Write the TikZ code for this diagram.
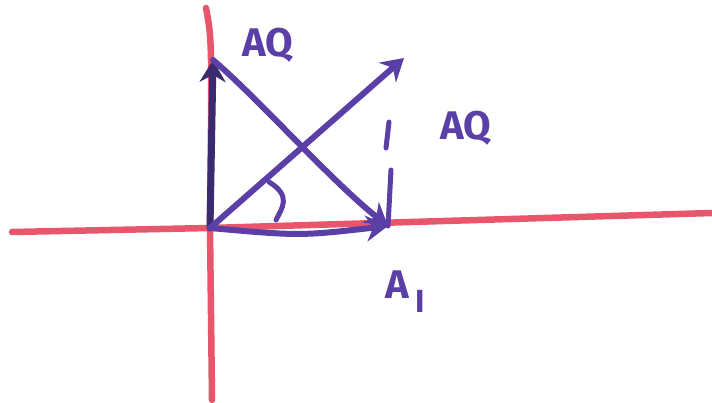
\documentclass[tikz,border=0pt]{standalone}
\usepackage{fontspec}
\setsansfont{Fira Sans}
\usetikzlibrary{arrows.meta,positioning}
\definecolor{axisred}{HTML}{E8566C}
\definecolor{phasor}{HTML}{5A3FA6}
\definecolor{phasordark}{HTML}{3B2A6E}
\tikzset{
  axisline/.style={line width=6.5pt, draw=axisred, line cap=round},
  vecarr/.style={-{Stealth[length=22pt, width=26pt]}, line width=6pt, draw=phasor, line cap=round},
  guide/.style={line width=5pt, draw=phasor, line cap=round},
  lbl/.style={font=\sffamily\bfseries\fontsize{40}{44}\selectfont, text=phasor, inner sep=0pt}
}
\begin{document}
\begin{tikzpicture}[x=1pt,y=-1pt]
    \useasboundingbox (0,0) rectangle (712,403);
    % axes
    \coordinate (o) at (210,228);
    \coordinate (xl) at (12,232);
    \coordinate (xr) at (712,213);
    \coordinate (yt) at (206,8);
    \coordinate (yb) at (212,400);
    \draw[axisline] (xl) -- (o) -- (xr);
    \draw[axisline] (yt) .. controls (212,40) .. (o) -- (yb);
    % vector tips
    \coordinate (aq) at (213,60);
    \coordinate (ai) at (388,226);
    \coordinate (sum) at (404,58);
    \draw[vecarr, draw=phasordark, line width=7pt] (o) -- (aq);
    \draw[vecarr] (o) .. controls (300,236) .. (ai);
    \draw[vecarr] (o) -- (sum);
    \draw[vecarr] (aq) .. controls (260,100) and (330,180) .. (ai);
    % projection and angle
    \draw[guide] (ai) -- (391,170);
    \draw[guide] (389,122) -- (386,148);
    \draw[guide] (269,182) .. controls (292,196) and (282,208) .. (276,220);
    % labels
    \node[lbl] (lblaq) at (268,45) {AQ};
    \node[lbl] (lblaq2) at (466,128) {AQ};
    \node[lbl] (lblai) at (405,292) {A\,\raisebox{-14pt}{\fontsize{32}{34}\selectfont I}};
\end{tikzpicture}
\end{document}
